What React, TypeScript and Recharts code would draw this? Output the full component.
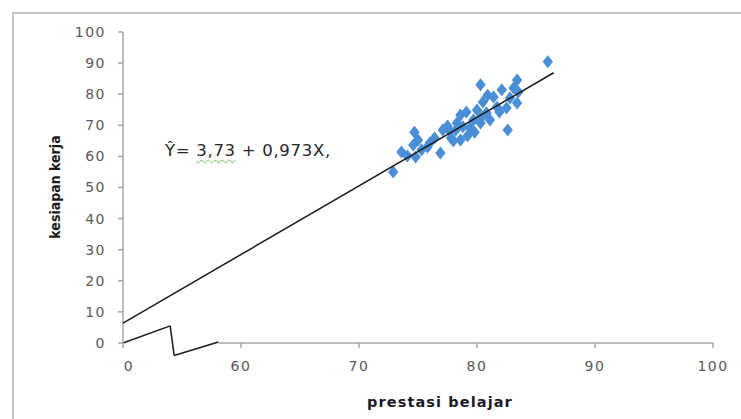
import { ScatterChart, Scatter, XAxis, YAxis, ZAxis, ReferenceLine } from 'recharts';

// prestasi belajar (x) / kesiapan kerja (y)
const prestasi = [
  72.9, 73.6, 74.1, 74.6, 74.7, 75.0, 74.8, 75.3, 76.0, 76.4,
  76.9, 77.1, 77.8, 78.2, 77.7, 78.0, 78.6, 79.2, 78.8, 78.3,
  78.6, 79.7, 80.0, 80.3, 80.4, 80.8, 81.1, 80.5, 80.3, 81.4,
  81.7, 82.1, 82.5, 82.8, 83.4, 82.6, 83.4, 83.5, 79.4, 79.1,
  79.8, 77.5, 80.9, 81.9, 83.1, 86.0, 75.8,
];
const kesiapan = [
  55.0, 61.4, 60.1, 63.7, 67.8, 65.3, 59.8, 62.1, 64.3, 65.9,
  61.1, 68.5, 65.9, 68.5, 68.2, 65.0, 65.3, 66.6, 69.5, 70.7,
  73.3, 71.7, 74.9, 70.7, 72.7, 74.0, 71.7, 77.5, 83.0, 79.1,
  75.9, 81.4, 75.6, 78.8, 77.2, 68.5, 84.6, 80.7, 69.1, 74.3,
  67.8, 69.8, 79.7, 74.3, 82.0, 90.4, 63.0,
];

// regression line as drawn (start / end)
const trendX = [0, 86.5];
const trendY = [6.4, 86.9];

// axis break zigzag
const breakX = [0, 24, 26, 48.5];
const breakY = [0, 5.5, -4, 0.3];

const xTickValues = [0, 60, 70, 80, 90, 100];
const xTickLabels = ['0', '60', '70', '80', '90', '100'];
const yTicks = [0, 10, 20, 30, 40, 50, 60, 70, 80, 90, 100];

// broken x scale: 0..60 squeezed into one tick step
const toAxis = (v: number) => (v < 60 ? v / 60 : 1 + (v - 60) / 10);

const points = prestasi.map((x, i) => ({ ax: toAxis(x), y: kesiapan[i] }));
const trend = trendX.map((x, i) => ({ ax: toAxis(x), y: trendY[i] }));
const breakPts = breakX.map((x, i) => ({ x: toAxis(x), y: breakY[i] }));
const xTicks = xTickValues.map(toAxis);

const AXIS = '#a6a6a6';
const tickStyle = { fontFamily: 'DejaVu Sans', fontSize: 14, fill: '#595959', letterSpacing: 1.5 };

const Diamond = (props: any) => {
  const { cx, cy } = props;
  if (cx == null || cy == null) return <g />;
  return <polygon points={`${cx},${cy - 6.5} ${cx + 5.2},${cy} ${cx},${cy + 6.5} ${cx - 5.2},${cy}`} fill="#4a8fd6" />;
};

const XTick = (props: any) => {
  const { x, y, payload } = props;
  const i = xTicks.indexOf(payload.value);
  return (
    <text x={x + (i === 0 ? 6 : 0)} y={y} dy="0.71em" textAnchor="middle" {...tickStyle}>
      {xTickLabels[i] ?? ''}
    </text>
  );
};

export default function App() {
  return (
    <div style={{ position: 'absolute', left: 0, top: 0, width: 741, height: 419, overflow: 'hidden', background: '#fff' }}>
      <div style={{ position: 'absolute', left: 12, top: 12, width: 800, height: 500, border: '2px solid #c4c4c4' }} />
      <ScatterChart width={741} height={419} margin={{ top: 32, right: 28, left: 63, bottom: 36 }} style={{ position: 'absolute', left: 0, top: 0 }}>
        <XAxis
          type="number"
          dataKey="ax"
          domain={[0, 5]}
          ticks={xTicks}
          axisLine={false}
          tickLine={{ stroke: AXIS, strokeWidth: 1.5 }}
          tickSize={5}
          tickMargin={13}
          height={40}
          tick={<XTick />}
          interval={0}
        />
        <YAxis
          type="number"
          dataKey="y"
          domain={[0, 100]}
          ticks={yTicks}
          axisLine={{ stroke: AXIS, strokeWidth: 1.5 }}
          tickLine={{ stroke: AXIS, strokeWidth: 1.5 }}
          tickSize={5}
          tickMargin={12}
          width={60}
          tick={tickStyle}
          interval={0}
        />
        <ZAxis range={[60, 60]} />
        <ReferenceLine
          segment={[{ x: breakPts[3].x, y: 0 }, { x: 5, y: 0 }]}
          stroke={AXIS}
          strokeWidth={1.5}
          ifOverflow="visible"
        />
        {breakPts.slice(1).map((p, i) => (
          <ReferenceLine
            key={`brk-${i}`}
            segment={[breakPts[i], p]}
            stroke="#1a1a1a"
            strokeWidth={1.5}
            ifOverflow="visible"
          />
        ))}
        <Scatter data={points} shape={Diamond} isAnimationActive={false} />
        <Scatter
          data={trend}
          line={{ stroke: '#1a1a1a', strokeWidth: 1.5 }}
          shape={() => <g />}
          isAnimationActive={false}
        />
      </ScatterChart>
      <div
        style={{
          position: 'absolute', left: 55, top: 187, transform: 'translate(-50%, -50%) rotate(-90deg)',
          fontFamily: "'DejaVu Sans Condensed', 'DejaVu Sans'", fontStretch: 'condensed', fontWeight: 'bold',
          fontSize: 14, whiteSpace: 'nowrap', color: '#1a1a1a',
        }}
      >
        kesiapan kerja
      </div>
      <div
        style={{
          position: 'absolute', left: 367, top: 395, fontFamily: 'DejaVu Sans', fontWeight: 'bold',
          fontSize: 14.5, lineHeight: 1, letterSpacing: 1.1, whiteSpace: 'nowrap', color: '#1a1a2a',
        }}
      >
        prestasi belajar
      </div>
      <div
        style={{
          position: 'absolute', left: 165, top: 143, fontFamily: 'DejaVu Sans', fontSize: 16.5,
          lineHeight: 1, letterSpacing: 0.7, whiteSpace: 'nowrap', color: '#262626',
        }}
      >
        Ŷ= <span style={{ textDecoration: 'underline wavy #6cc04a', textDecorationThickness: 1, textUnderlineOffset: 3 }}>3,73</span> + 0,973X,
      </div>
    </div>
  );
}
